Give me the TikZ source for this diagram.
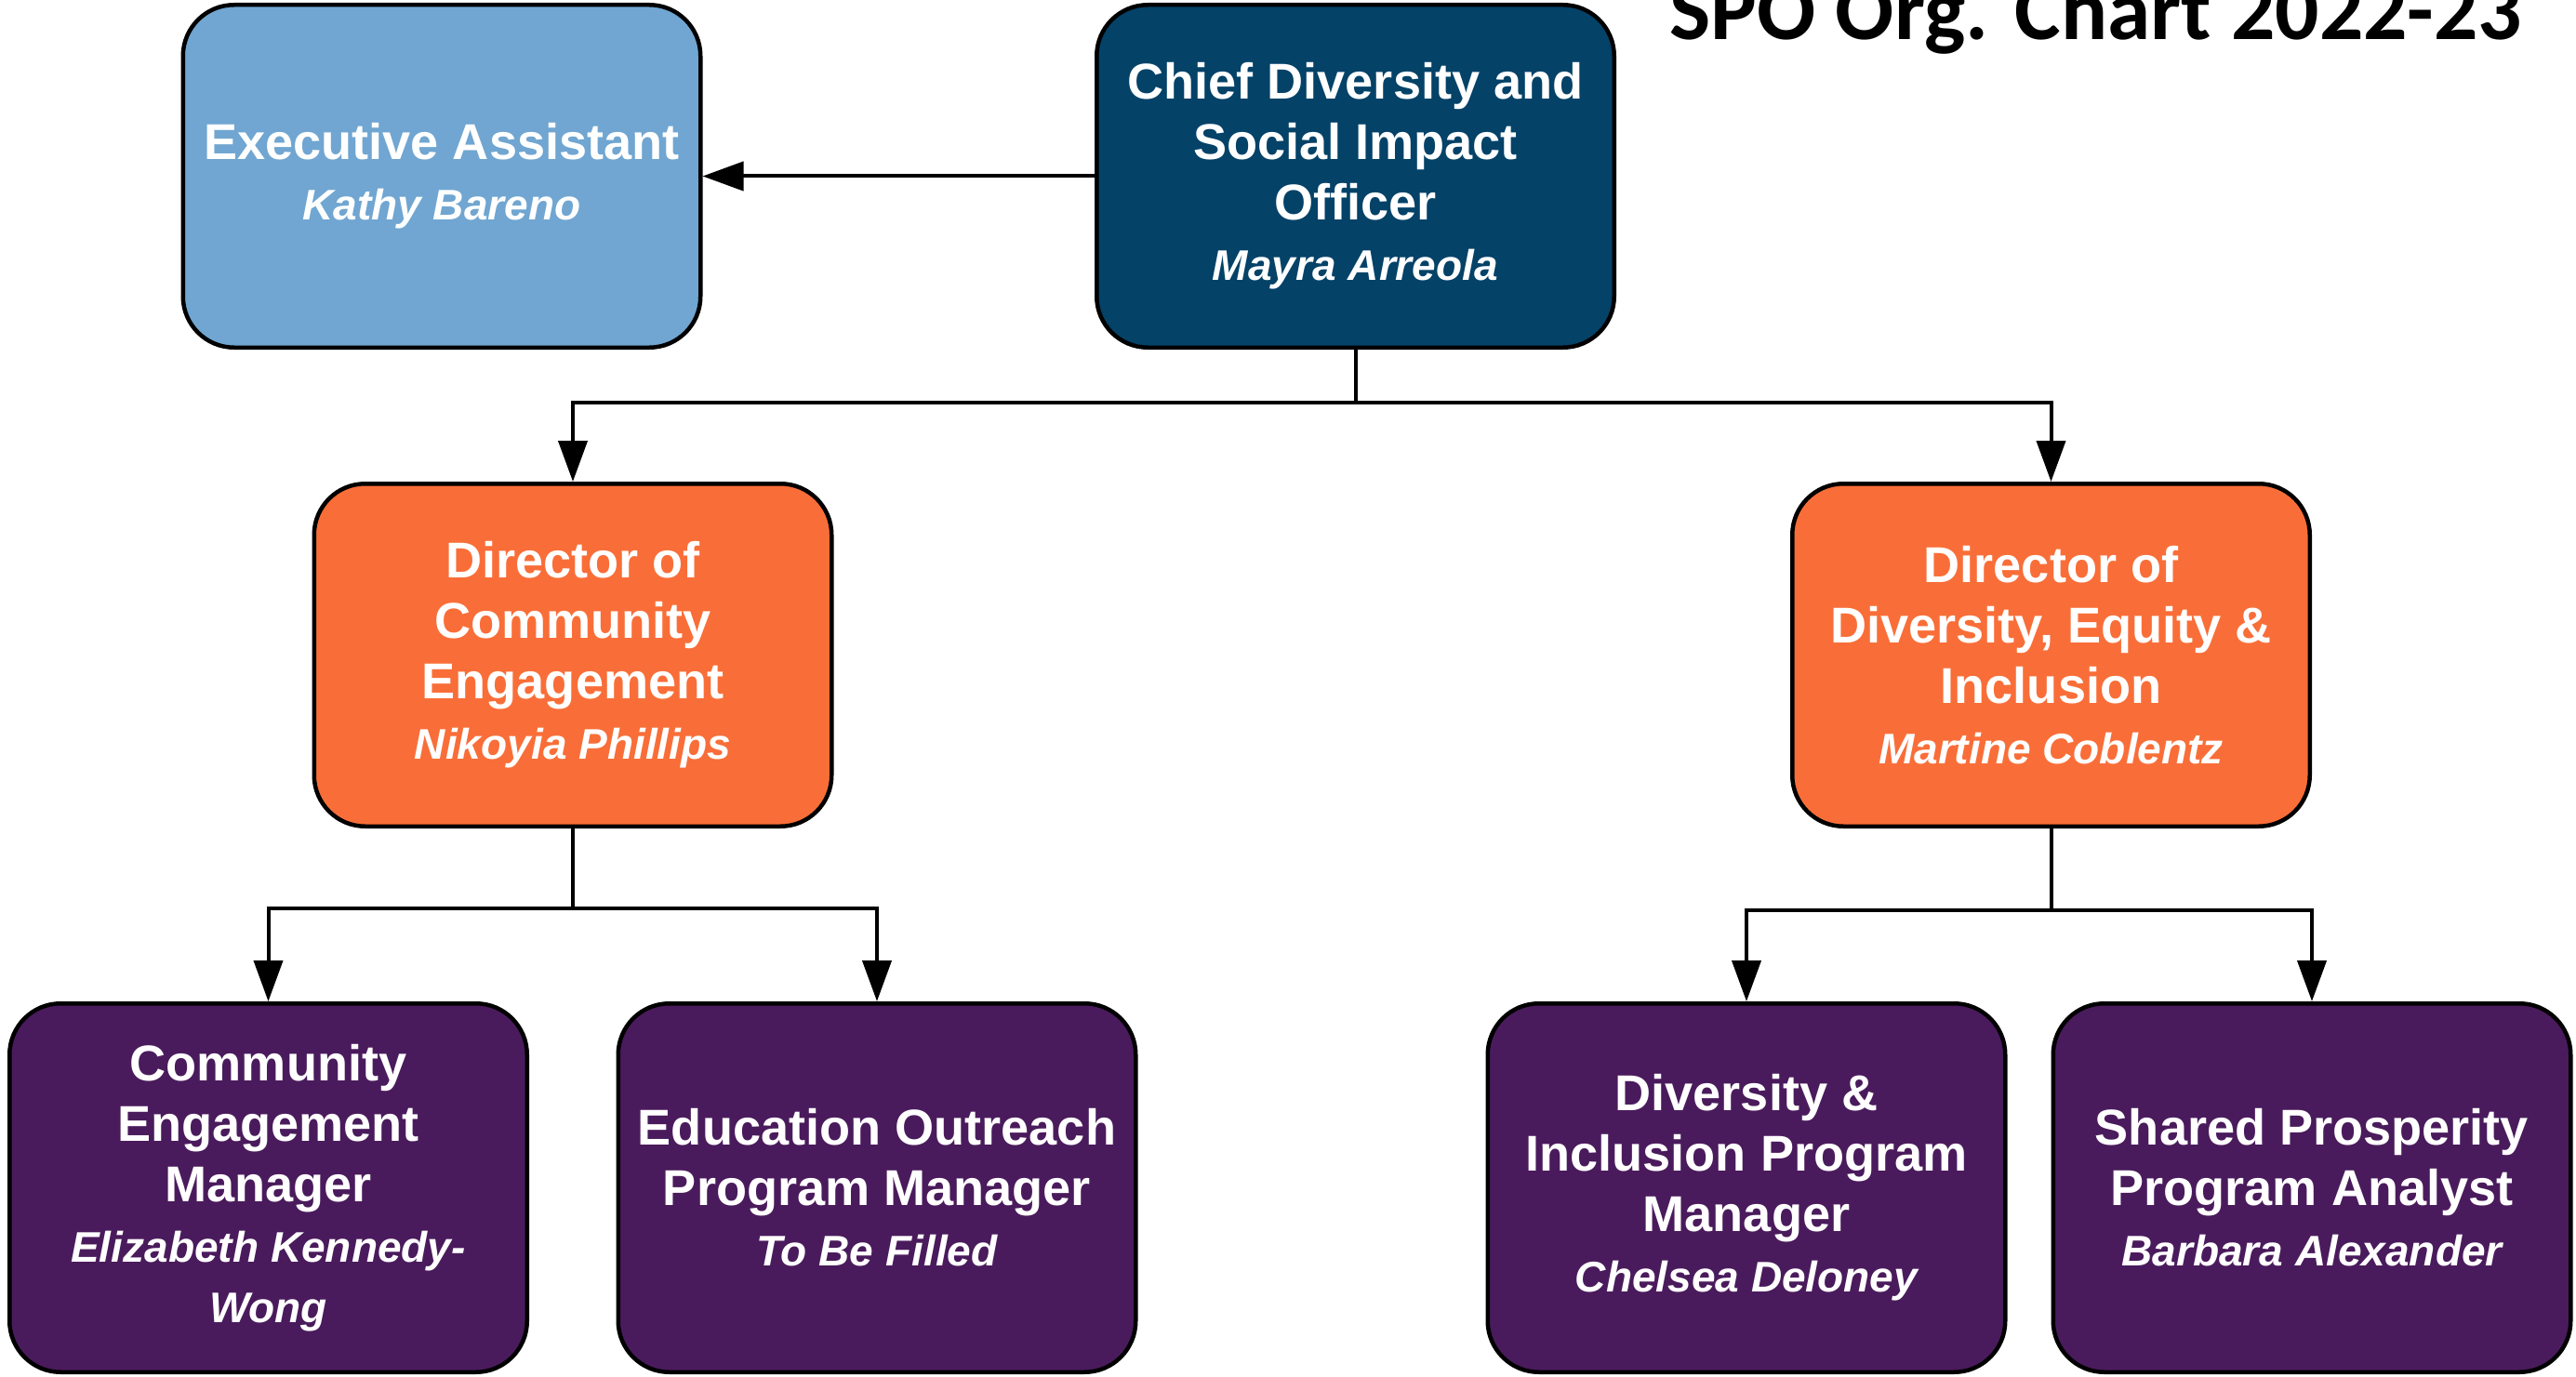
\documentclass[tikz,border=0pt]{standalone}
\usepackage{fontspec}
\setmainfont{Liberation Sans}
\newfontfamily\titlefont{Carlito}
\usepackage{tikz}
\usetikzlibrary{ % tikz packages
    positioning,
    arrows.meta
}
\definecolor{assistantblue}{RGB}{112,166,209}
\definecolor{chiefblue}{RGB}{4,66,104}
\definecolor{directororange}{RGB}{249,110,56}
\definecolor{staffpurple}{RGB}{74,27,92}
\tikzset{rolebox/.style={
    draw=black,
    line width=0.45mm,
    rounded corners=5.5mm,
    minimum width=55.65mm,
    minimum height=36.85mm,
    inner sep=0pt,
    align=center,
    text=white,
    font=\fontsize{15.4}{18.5}\selectfont\bfseries
}}
\tikzset{execbox/.style={fill=assistantblue}}
\tikzset{chiefbox/.style={fill=chiefblue}}
\tikzset{directorbox/.style={fill=directororange}}
\tikzset{staffbox/.style={fill=staffpurple, minimum height=39.65mm}}
\tikzset{link/.style={draw=black, line width=0.4mm}}
\tikzset{>={Triangle[length=4.4mm,width=3.1mm]}}
\newcommand{\staffname}[1]{{\fontsize{13.1}{18.5}\selectfont\itshape #1}}

\begin{document}
\begin{tikzpicture}[node distance=2cm,on grid,auto]
        \useasboundingbox (0,0) rectangle (27.70,-14.81);

        \node[anchor=base east, inner sep=0pt, font=\titlefont\bfseries\fontsize{26.6}{30}\selectfont] (title) at (27.13,-0.43) {SPO Org. Chart 2022-23};

        \node[rolebox, chiefbox] (chief) at (14.575,-1.895) {Chief Diversity and\\Social Impact\\Officer\\\staffname{Mayra Arreola}};
        \node[rolebox, execbox] (assistant) [left=9.825cm of chief] {Executive Assistant\\\staffname{Kathy Bareno}};

        \node[rolebox, directorbox] (dirce) [below left=5.15cm and 8.415cm of chief] {Director of\\Community\\Engagement\\\staffname{Nikoyia Phillips}};
        \node[rolebox, directorbox] (dirdei) [below right=5.15cm and 7.48cm of chief] {Director of\\Diversity, Equity \&\\Inclusion\\\staffname{Martine Coblentz}};

        \node[rolebox, staffbox] (cem) [below left=5.73cm and 3.275cm of dirce] {Community\\Engagement\\Manager\\\staffname{Elizabeth Kennedy-}\\\staffname{Wong}};
        \node[rolebox, staffbox] (eopm) [below right=5.73cm and 3.27cm of dirce] {Education Outreach\\Program Manager\\\staffname{To Be Filled}};
        \node[rolebox, staffbox] (dipm) [below left=5.73cm and 3.275cm of dirdei] {Diversity \&\\Inclusion Program\\Manager\\\staffname{Chelsea Deloney}};
        \node[rolebox, staffbox] (sppa) [below right=5.73cm and 2.805cm of dirdei] {Shared Prosperity\\Program Analyst\\\staffname{Barbara Alexander}};

        \coordinate[below=0.57cm of chief.south] (chiefsplit);
        \coordinate[below=0.86cm of dirce.south] (cesplit);
        \coordinate[below=0.88cm of dirdei.south] (deisplit);

        \path[->, link]
            (chief)
                edge (assistant);
        \draw[->, link] (chief) -- (chiefsplit) -| (dirce);
        \draw[->, link] (chief) -- (chiefsplit) -| (dirdei);
        \draw[->, link] (dirce) -- (cesplit) -| (cem);
        \draw[->, link] (dirce) -- (cesplit) -| (eopm);
        \draw[->, link] (dirdei) -- (deisplit) -| (dipm);
        \draw[->, link] (dirdei) -- (deisplit) -| (sppa);
    \end{tikzpicture}
\end{document}
